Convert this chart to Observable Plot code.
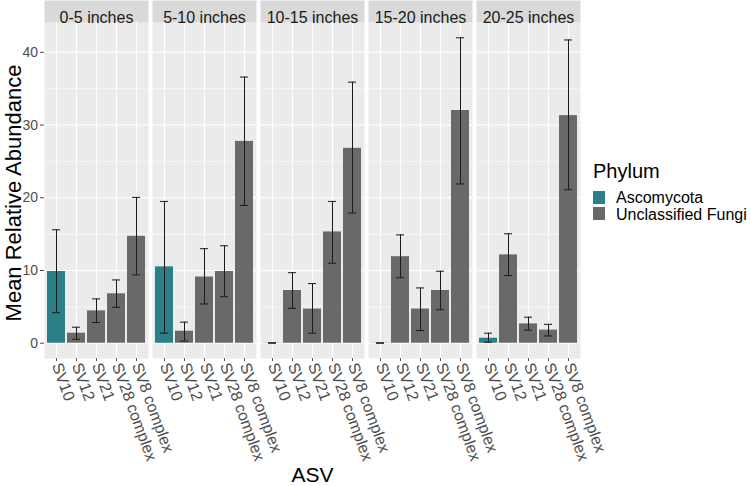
<!DOCTYPE html>
<html>
<head>
<meta charset="utf-8">
<script src="https://cdn.jsdelivr.net/npm/d3@7"></script>
<script src="https://cdn.jsdelivr.net/npm/@observablehq/plot@0.6"></script>
<style>
  html, body { margin: 0; padding: 0; background: white; }
  #chart { width: 751px; height: 486px; }
</style>
</head>
<body>
<div id="chart"></div>
<script>
// ---- data ----
const depths = ["0-5 inches", "5-10 inches", "10-15 inches", "15-20 inches", "20-25 inches"];
const asvs = ["SV10", "SV12", "SV21", "SV28 complex", "SV8 complex"];
const asvPhylum = ["Ascomycota", "Unclassified Fungi", "Unclassified Fungi", "Unclassified Fungi", "Unclassified Fungi"];
const phylumLevels = ["Ascomycota", "Unclassified Fungi"];

const mean0_5   = [9.86, 1.38, 4.45, 6.8, 14.7];
const mean5_10  = [10.5, 1.65, 9.1, 9.86, 27.75];
const mean10_15 = [0.03, 7.25, 4.7, 15.3, 26.8];
const mean15_20 = [0.03, 11.9, 4.7, 7.25, 32.0];
const mean20_25 = [0.69, 12.15, 2.66, 1.8, 31.3];

const lo0_5   = [4.2, 0.55, 2.85, 4.95, 9.4];
const lo5_10  = [1.38, 0.3, 5.4, 6.4, 18.95];
const lo10_15 = [0.0, 4.8, 1.38, 11.0, 17.9];
const lo15_20 = [0.0, 9.0, 1.74, 4.6, 21.9];
const lo20_25 = [0.14, 9.3, 1.8, 1.0, 21.1];

const hi0_5   = [15.6, 2.2, 6.1, 8.7, 20.05];
const hi5_10  = [19.5, 2.9, 13.0, 13.4, 36.6];
const hi10_15 = [0.06, 9.7, 8.2, 19.5, 35.9];
const hi15_20 = [0.06, 14.9, 7.6, 9.9, 42.0];
const hi20_25 = [1.38, 15.05, 3.58, 2.6, 41.7];

const yTicks = [0, 10, 20, 30, 40];
const yMinorTicks = [5, 15, 25, 35];

// ---- build table ----
const means = [mean0_5, mean5_10, mean10_15, mean15_20, mean20_25];
const los = [lo0_5, lo5_10, lo10_15, lo15_20, lo20_25];
const his = [hi0_5, hi5_10, hi10_15, hi15_20, hi20_25];
const data = [];
depths.forEach((d, i) => asvs.forEach((a, j) => data.push({
  depth: d, asv: a, phylum: asvPhylum[j], mean: means[i][j], lo: los[i][j], hi: his[i][j]
})));

const maxHi = d3.max(data, d => d.hi);
const pad = maxHi * 0.05;

// ---- layout / style ----
const W = 751, H = 486;
const mL = 44, mR = 170, mT = 22, mB = 128;
const PH = H - mT - mB;
const teal = "#2A7F88";
const gray = "#696969";
const font = "'Liberation Sans', Arial, Helvetica, sans-serif";

const chart = Plot.plot({
  width: W, height: H,
  marginLeft: mL, marginRight: mR, marginTop: mT, marginBottom: mB,
  style: {fontFamily: font, background: "white", overflow: "visible"},
  fx: {domain: depths, axis: null, paddingInner: 0.034, paddingOuter: 0},
  x: {domain: asvs, paddingInner: 0.1, paddingOuter: 0.15},
  y: {domain: [-pad, maxHi + pad]},
  color: {domain: phylumLevels, range: [teal, gray]},
  marks: [
    Plot.frame({fill: "#EBEBEB"}),
    Plot.frame({fill: "#D9D9D9", insetTop: -mT, insetBottom: PH}),
    Plot.gridY(yMinorTicks, {stroke: "white", strokeOpacity: 1, strokeWidth: 0.55}),
    Plot.gridY(yTicks, {stroke: "white", strokeOpacity: 1, strokeWidth: 1.1}),
    Plot.gridX({stroke: "white", strokeOpacity: 1, strokeWidth: 1.1}),
    Plot.barY(data, {fx: "depth", x: "asv", y: "mean", fill: "phylum"}),
    Plot.ruleX(data, {fx: "depth", x: "asv", y1: "lo", y2: "hi", stroke: "#1A1A1A", strokeWidth: 1}),
    Plot.tickY(data, {fx: "depth", x: "asv", y: "lo", stroke: "#1A1A1A", strokeWidth: 1, insetLeft: 5, insetRight: 5}),
    Plot.tickY(data, {fx: "depth", x: "asv", y: "hi", stroke: "#1A1A1A", strokeWidth: 1, insetLeft: 5, insetRight: 5}),
    Plot.axisY(yTicks, {tickSize: 4, tickPadding: 2.5, fontSize: 14, color: "#4D4D4D", label: null}),
    Plot.axisX({tickRotate: 70, tickSize: 3, tickPadding: 2, fontSize: 16, color: "#4D4D4D", label: null}),
    Plot.text(depths, {fx: d => d, text: d => d, frameAnchor: "top", dy: -mT / 2, fontSize: 16, fill: "#1A1A1A"})
  ]
});

document.getElementById("chart").appendChild(chart);

// ---- titles & legend ----
const svg = d3.select(chart);
const panelLeft = mL, panelRight = W - mR;
const yMid = (mT + (H - mB)) / 2 + 3;

svg.append("text")
  .attr("transform", `translate(13,${yMid}) rotate(-90)`)
  .attr("text-anchor", "middle").attr("dominant-baseline", "central")
  .attr("font-size", 22).attr("fill", "black").attr("font-family", font)
  .text("Mean Relative Abundance");

svg.append("text")
  .attr("x", (panelLeft + panelRight) / 2).attr("y", 482)
  .attr("text-anchor", "middle")
  .attr("font-size", 21).attr("fill", "black").attr("font-family", font)
  .text("ASV");

const lg = svg.append("g").attr("font-family", font).attr("text-anchor", "start");
lg.append("text").attr("x", 593).attr("y", 178).attr("font-size", 20).attr("fill", "black")
  .attr("text-anchor", "start").text("Phylum");
const colors = [teal, gray];
phylumLevels.forEach((p, i) => {
  lg.append("rect").attr("x", 593).attr("y", 191 + i * 16).attr("width", 12).attr("height", 13).attr("fill", colors[i]);
  lg.append("text").attr("x", 616).attr("y", 203 + i * 16.5).attr("font-size", 16).attr("fill", "black")
    .attr("text-anchor", "start").text(p);
});
</script>
</body>
</html>
